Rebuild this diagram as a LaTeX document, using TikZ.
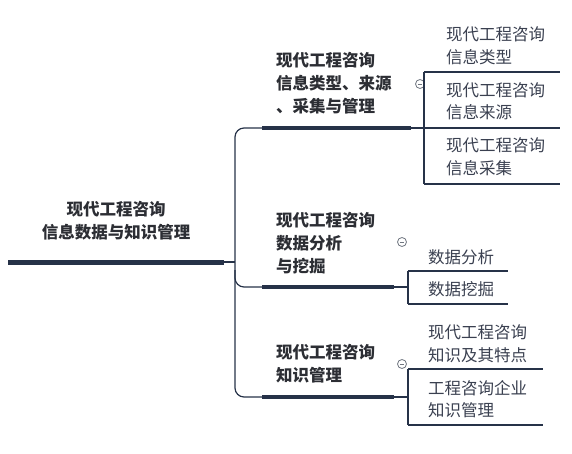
\documentclass[tikz,border=0pt]{standalone}
\usepackage{fontspec}
\setmainfont{Noto Sans CJK SC}
\usetikzlibrary{positioning}
\definecolor{linec}{RGB}{38,50,72}
\definecolor{textc}{RGB}{44,46,52}
\definecolor{leafc}{RGB}{58,64,80}
\definecolor{foldc}{RGB}{112,118,128}
\tikzset{
  conn/.style={linec, line width=1.2pt},
  bar/.style={linec, line width=4pt},
  topic/.style={font=\fontsize{16.5}{23}\selectfont\bfseries, text=textc, align=left, anchor=west, inner sep=0pt},
  leaf/.style={font=\fontsize{16.5}{22.5}\selectfont, text=leafc, align=left, anchor=west, inner sep=0pt},
  fold/.style={circle, draw=foldc, fill=white, line width=0.8pt, minimum size=9pt, inner sep=0pt,
    path picture={\draw[foldc, line width=0.8pt] ([xshift=2.2pt]path picture bounding box.west) -- ([xshift=-2.2pt]path picture bounding box.east);}}
}
\begin{document}
\begin{tikzpicture}[x=1pt,y=-1pt]
  \useasboundingbox (0,0) rectangle (572,454);

  % root
  \node[topic, anchor=center, align=center] (root) at (116,221) {现代工程咨询\\信息数据与知识管理};
  \coordinate (rootL) at (8,262);
  \coordinate (rootR) at (224,262);
  \coordinate (trunk) at (235,262);
  \draw[conn] (rootR) -- (trunk);
  \draw[linec, line width=5pt] (rootL) -- (rootR);

  % trunk and branch ends
  \coordinate (b1L) at (262,128); \coordinate (b1R) at (411,128); \coordinate (b1E) at (424,128);
  \coordinate (b2L) at (262,287); \coordinate (b2R) at (394,287); \coordinate (b2E) at (408,287);
  \coordinate (b3L) at (262,397); \coordinate (b3R) at (394,397); \coordinate (b3E) at (408,397);
  \draw[conn, rounded corners=9pt] (b1L) -- (235,128) -- (235,397) -- (b3L);
  \draw[conn, rounded corners=9pt] (235,270) -- (235,287) -- (b2L);

  % branch 1
  \node[topic] (t1) at (276,83.5) {现代工程咨询\\信息类型、来源\\、采集与管理};
  \draw[conn] (b1L) -- (b1E);
  \draw[bar] (b1L) -- (b1R);
  \node[fold] (f1) at (420,84) {};
  \draw[conn] (424,72) -- (b1E) -- (424,184);
  \foreach \y in {72,128,184}
    \draw[conn] (424,\y) -- (560,\y);
  \node[leaf] (l11) at (446,45.5) {现代工程咨询\\信息类型};
  \node[leaf] (l12) at (446,101) {现代工程咨询\\信息来源};
  \node[leaf] (l13) at (446,156.5) {现代工程咨询\\信息采集};

  % branch 2
  \node[topic] (t2) at (276,243) {现代工程咨询\\数据分析\\与挖掘};
  \draw[conn] (b2L) -- (b2E);
  \draw[bar] (b2L) -- (b2R);
  \node[fold] (f2) at (402,242) {};
  \draw[conn] (408,271) -- (b2E) -- (408,304);
  \foreach \y in {271,304}
    \draw[conn] (408,\y) -- (508,\y);
  \node[leaf] (l21) at (428,257) {数据分析};
  \node[leaf] (l22) at (428,289) {数据挖掘};

  % branch 3
  \node[topic] (t3) at (276,364) {现代工程咨询\\知识管理};
  \draw[conn] (b3L) -- (b3E);
  \draw[bar] (b3L) -- (b3R);
  \node[fold] (f3) at (402,364) {};
  \draw[conn] (408,369) -- (b3E) -- (408,425);
  \foreach \y in {369,425}
    \draw[conn] (408,\y) -- (543,\y);
  \node[leaf] (l31) at (428,343.5) {现代工程咨询\\知识及其特点};
  \node[leaf] (l32) at (428,399) {工程咨询企业\\知识管理};
\end{tikzpicture}
\end{document}
